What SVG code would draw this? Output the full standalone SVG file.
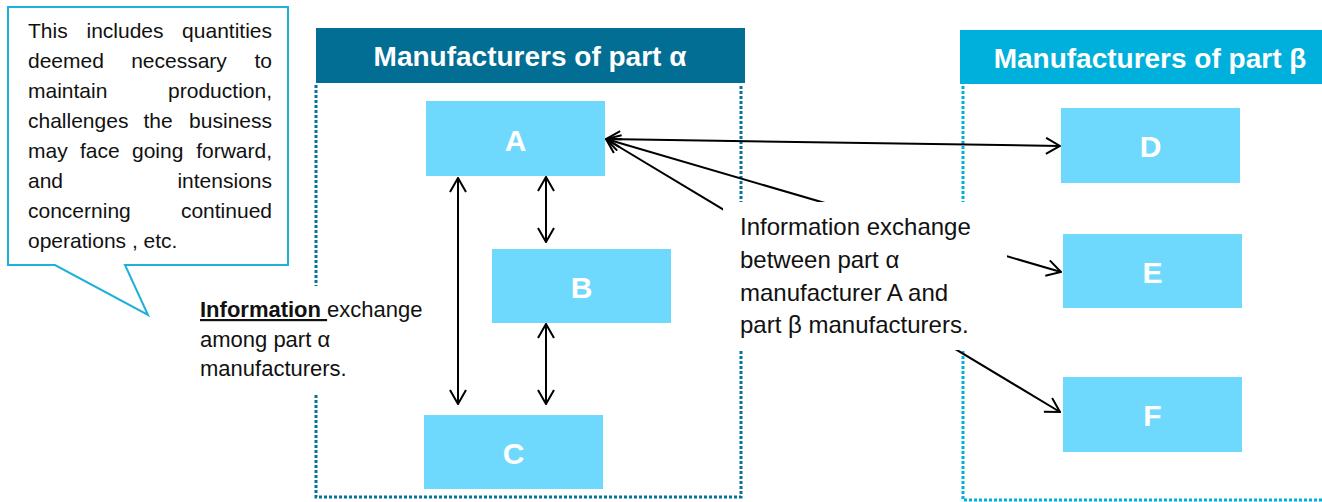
<svg xmlns="http://www.w3.org/2000/svg" width="1322" height="502" viewBox="0 0 1322 502">
<style>
  text { font-family: "Liberation Sans", Arial, sans-serif; }
  .hdr { font-size: 28px; font-weight: bold; fill: #ffffff; text-anchor: middle; }
  .box { fill: #6fd9fd; }
  .lbl { font-size: 30px; font-weight: bold; fill: #ffffff; text-anchor: middle; }
  .dotA { fill: none; stroke: #05739a; stroke-width: 3; stroke-dasharray: 3 2; }
  .dotB { fill: none; stroke: #00b0dc; stroke-width: 3; stroke-dasharray: 3 2; }
  .conn { fill: none; stroke: #000000; stroke-width: 2; marker-start: url(#ah); marker-end: url(#ah); }
  .note { font-size: 21px; fill: #111111; }
  .cap { font-size: 22px; fill: #111111; }
  .big { font-size: 24px; fill: #111111; }
</style>
<defs>
  <marker id="ah" viewBox="0 0 16 18" refX="15" refY="9" markerWidth="16" markerHeight="18" markerUnits="userSpaceOnUse" orient="auto-start-reverse">
    <path d="M1,1 L15,9 L1,17" fill="none" stroke="#000000" stroke-width="2"/>
  </marker>
</defs>

<g id="group-alpha">
  <rect x="316" y="28" width="429" height="55" fill="#036e94"/>
  <text class="hdr" x="530" y="66">Manufacturers of part α</text>
  <path class="dotA" d="M316,85 V497 H741 V85"/>
</g>
<g id="group-beta">
  <rect x="960" y="30" width="362" height="54" fill="#00b0dc"/>
  <text class="hdr" x="1150" y="68">Manufacturers of part β</text>
  <path class="dotB" d="M963,86 V500 H1322"/>
</g>

<g id="callout">
  <path d="M8,7 H288 V265 H125 L148,315 L55,265 H8 Z" fill="#ffffff" stroke="#1fb0d8" stroke-width="2"/>
  <g class="note">
    <text x="28" y="38">This</text><text x="125" y="38" text-anchor="middle">includes</text><text x="272" y="38" text-anchor="end">quantities</text>
    <text x="28" y="68">deemed</text><text x="179" y="68" text-anchor="middle">necessary</text><text x="272" y="68" text-anchor="end">to</text>
    <text x="28" y="98">maintain</text><text x="272" y="98" text-anchor="end">production,</text>
    <text x="28" y="128">challenges</text><text x="158" y="128" text-anchor="middle">the</text><text x="272" y="128" text-anchor="end">business</text>
    <text x="28" y="158">may</text><text x="80" y="158">face</text><text x="132" y="158">going</text><text x="272" y="158" text-anchor="end">forward,</text>
    <text x="28" y="188">and</text><text x="272" y="188" text-anchor="end">intensions</text>
    <text x="28" y="218">concerning</text><text x="272" y="218" text-anchor="end">continued</text>
    <text x="28" y="248">operations , etc.</text>
  </g>
</g>

<g id="connectors">
  <line class="conn" x1="458" y1="178" x2="458" y2="404"/>
  <line class="conn" x1="546" y1="177" x2="546" y2="242"/>
  <line class="conn" x1="546" y1="324" x2="546" y2="404"/>
  <line class="conn" x1="606" y1="139" x2="1060" y2="146"/>
  <line class="conn" x1="606" y1="139" x2="1061" y2="272"/>
  <line class="conn" x1="606" y1="139" x2="1060" y2="412"/>
</g>

<g id="label-among">
  <rect x="195" y="286" width="240" height="108" fill="#ffffff"/>
  <text class="cap" x="200" y="317"><tspan font-weight="bold" text-decoration="underline">Information </tspan>exchange</text>
  <text class="cap" x="200" y="347">among part α</text>
  <text class="cap" x="200" y="376">manufacturers.</text>
</g>

<g id="label-between">
  <rect x="723" y="202" width="284" height="148" fill="#ffffff"/>
  <text class="big" x="740" y="235">Information exchange</text>
  <text class="big" x="740" y="268">between part α</text>
  <text class="big" x="740" y="301">manufacturer A and</text>
  <text class="big" x="740" y="333">part β manufacturers.</text>
</g>

<g id="node-A"><rect class="box" x="426" y="101" width="179" height="75"/><text class="lbl" x="515.5" y="151">A</text></g>
<g id="node-B"><rect class="box" x="492" y="249" width="179" height="74"/><text class="lbl" x="581.5" y="298">B</text></g>
<g id="node-C"><rect class="box" x="424" y="415" width="179" height="74"/><text class="lbl" x="513.5" y="464">C</text></g>
<g id="node-D"><rect class="box" x="1061" y="108" width="179" height="75"/><text class="lbl" x="1150.5" y="157">D</text></g>
<g id="node-E"><rect class="box" x="1063" y="234" width="179" height="74"/><text class="lbl" x="1152.5" y="283">E</text></g>
<g id="node-F"><rect class="box" x="1063" y="377" width="179" height="75"/><text class="lbl" x="1152.5" y="426">F</text></g>
</svg>
